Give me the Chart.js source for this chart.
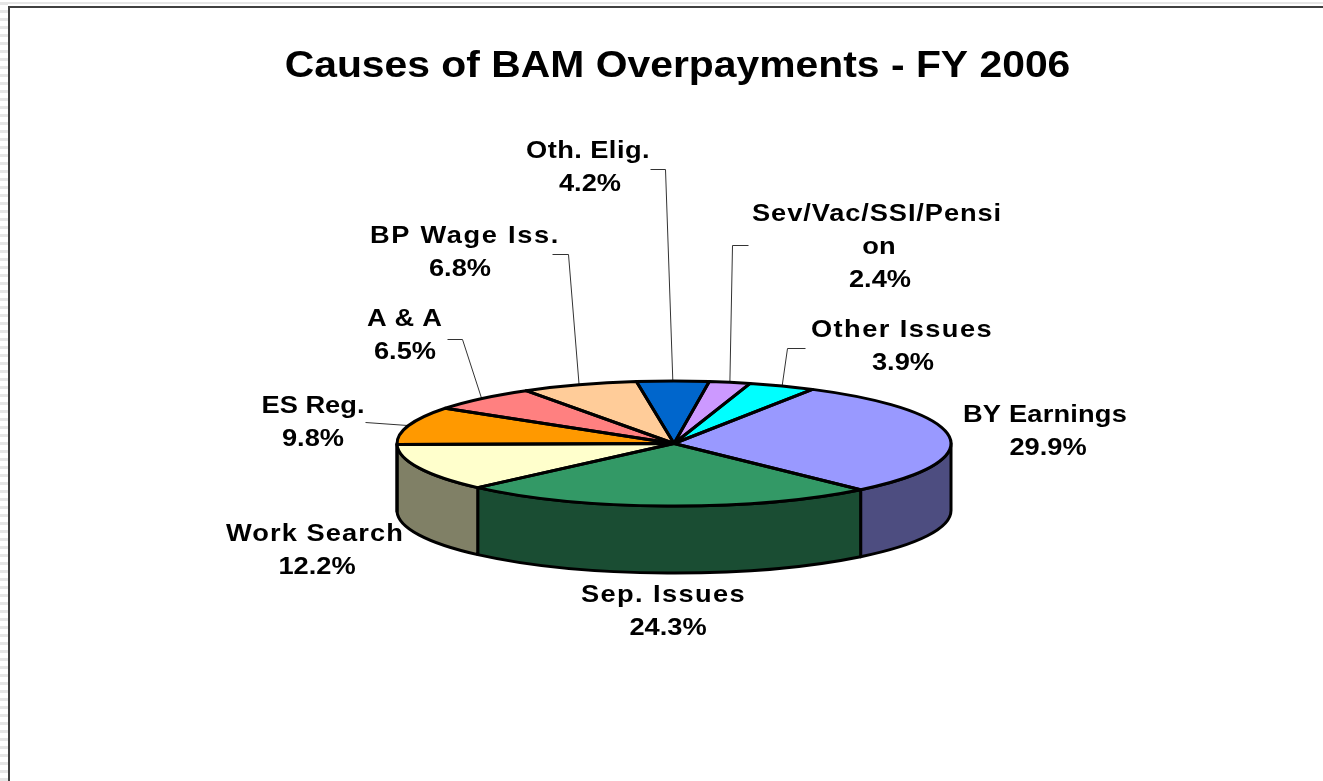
<!DOCTYPE html>
<html>
<head>
<meta charset="utf-8">
<style>
  html, body { margin: 0; padding: 0; background: #fff; overflow: hidden; }
  canvas { display: block; }
</style>
<script src="https://cdn.jsdelivr.net/npm/chart.js@4"></script>
</head>
<body>
<canvas id="chart" width="1323" height="781"></canvas>
<script>
// Share of overpayments by cause, in percent, clockwise from the first slice.
const categories = ['BY Earnings', 'Sep. Issues', 'Work Search', 'ES Reg.', 'A & A', 'BP Wage Iss.', 'Oth. Elig.', 'Sev/Vac/SSI/Pensi\non', 'Other Issues'];
const shares = [29.9, 24.3, 12.2, 9.8, 6.5, 6.8, 4.2, 2.4, 3.9];
const topColors = ['#9999FF', '#339966', '#FFFFCC', '#FF9900', '#FF8080', '#FFCC99', '#0066CC', '#CC99FF', '#00FFFF'];
const wallColors = ['#4D4D80', '#1A4D33', '#808066', '#804D00', '#804040', '#80664D', '#003366', '#664D80', '#008080'];
const chartTitle = 'Causes of BAM Overpayments - FY 2006';

// Label layout: centre of the first text line, width of the name line, centre x of the percentage.
const labelCentres = [[1045, 415], [663.5, 595], [315, 534], [313, 406], [404.5, 319], [465, 236], [588, 151], [877, 214], [902, 330]];
const nameWidths = [164, 165, 178, 102, 75, 190, 124, 250, 182];
const shareCentres = [1048, 668, 317, 313, 405, 460, 590, 880, 903];
// Leader elbows: [tail end, elbow]; null where a slice has no leader.
const leaders = [null, null, null, [[365, 422], [365, 422]], [[447, 339], [462, 339]], [[552, 254], [568, 254]], [[650, 169], [665, 169]], [[748, 245], [732, 245]], [[805, 348], [787, 348]]];

const squash = 0.2256;   // ellipse height / width of the tilted pie
const depth = 67;        // wall height
const textStretch = 1.135;
const labelFont = 'bold 24px "Liberation Sans", Arial, sans-serif';
const lineGap = 33;
const outlineWidth = 3;

function ellipseOf(chart) {
  const arcs = chart.getDatasetMeta(0).data;
  const rx = arcs[0].outerRadius;
  return { arcs, cx: arcs[0].x, cy: arcs[0].y, rx, ry: rx * squash };
}

function drawLine(ctx, text, x, y, width) {
  ctx.save();
  ctx.translate(x, y);
  ctx.scale(textStretch, 1);
  if (width) {
    // Wide names get extra tracking so they fill their measured width.
    const extra = (width / textStretch - ctx.measureText(text).width) / text.length;
    ctx.letterSpacing = Math.max(extra, 0).toFixed(2) + 'px';
  }
  ctx.fillText(text, 0, 0);
  ctx.restore();
}

const tiltedPie = {
  id: 'tiltedPie',
  beforeDraw(chart) {
    const ctx = chart.ctx;
    // Window frame: striped margin plus a dark rule.
    ctx.save();
    ctx.fillStyle = '#E6E6E6';
    for (let y = 0; y < chart.height; y += 8) ctx.fillRect(0, y + 2, 8, 3);
    ctx.fillRect(0, 2, chart.width, 2);
    ctx.fillStyle = '#404040';
    ctx.fillRect(8, 6, chart.width - 8, 2);
    ctx.fillRect(8, 6, 2, chart.height - 6);
    ctx.restore();
    // The title keeps the wide letterforms of the labels.
    ctx.save();
    ctx.translate(677.5, 3);
    ctx.scale(textStretch, 1);
    ctx.translate(-674, 0);
  },
  beforeDatasetsDraw(chart) {
    const ctx = chart.ctx;
    ctx.restore();
    const { arcs, cx, cy, rx, ry } = ellipseOf(chart);
    // Outer wall: only the near half of the rim is visible.
    ctx.save();
    ctx.lineWidth = outlineWidth;
    ctx.strokeStyle = '#000';
    ctx.lineJoin = 'round';
    arcs.forEach((arc, i) => {
      const a0 = Math.max(arc.startAngle, 0);
      const a1 = Math.min(arc.endAngle, Math.PI);
      if (a1 <= a0) return;
      ctx.beginPath();
      ctx.ellipse(cx, cy + depth, rx, ry, 0, a0, a1);
      ctx.ellipse(cx, cy, rx, ry, 0, a1, a0, true);
      ctx.closePath();
      ctx.fillStyle = wallColors[i];
      ctx.fill();
      ctx.stroke();
    });
    ctx.restore();
    // Slices are drawn flattened by the library's own arc elements.
    ctx.save();
    ctx.translate(cx, cy);
    ctx.scale(1, squash);
    ctx.translate(-cx, -cy);
  },
  afterDatasetsDraw(chart) {
    const ctx = chart.ctx;
    ctx.restore();
    const { arcs, cx, cy, rx, ry } = ellipseOf(chart);
    ctx.save();
    // Leader lines run from each slice's rim midpoint to its label.
    ctx.strokeStyle = '#333';
    ctx.lineWidth = 1;
    arcs.forEach((arc, i) => {
      if (!leaders[i]) return;
      const mid = (arc.startAngle + arc.endAngle) / 2;
      const [tail, elbow] = leaders[i];
      ctx.beginPath();
      ctx.moveTo(tail[0] + 0.5, tail[1] + 0.5);
      ctx.lineTo(elbow[0] + 0.5, elbow[1] + 0.5);
      ctx.lineTo(cx + rx * Math.cos(mid), cy + ry * Math.sin(mid));
      ctx.stroke();
    });
    ctx.strokeStyle = '#000';
    ctx.lineWidth = outlineWidth;
    ctx.lineJoin = 'round';
    arcs.forEach(arc => {
      ctx.beginPath();
      ctx.moveTo(cx, cy);
      ctx.ellipse(cx, cy, rx, ry, 0, arc.startAngle, arc.endAngle);
      ctx.closePath();
      ctx.stroke();
    });
    // Category and percentage labels.
    ctx.fillStyle = '#000';
    ctx.font = labelFont;
    ctx.textAlign = 'center';
    ctx.textBaseline = 'middle';
    categories.forEach((name, i) => {
      const [x, y] = labelCentres[i];
      const lines = name.split('\n');
      lines.forEach((line, n) => {
        drawLine(ctx, line, n === 0 ? x : x + 2, y + n * lineGap, n === 0 ? nameWidths[i] : 0);
      });
      drawLine(ctx, shares[i].toFixed(1) + '%', shareCentres[i], y + lines.length * lineGap, 0);
    });
    ctx.restore();
  }
};

new Chart(document.getElementById('chart'), {
  type: 'pie',
  data: {
    labels: categories,
    datasets: [{ data: shares, backgroundColor: topColors, borderWidth: 0, hoverOffset: 0 }]
  },
  options: {
    responsive: false,
    animation: false,
    rotation: 30,
    layout: { padding: { left: 25, right: 0, top: 0, bottom: 60.5 } },
    events: [],
    plugins: {
      legend: { display: false },
      tooltip: { enabled: false },
      title: {
        display: true,
        text: chartTitle,
        color: '#000',
        font: { family: '"Liberation Sans", Arial, sans-serif', size: 36, weight: 'bold', lineHeight: 1.2 },
        padding: { top: 42.4, bottom: 80.9 }
      }
    }
  },
  plugins: [tiltedPie]
});
</script>
</body>
</html>
